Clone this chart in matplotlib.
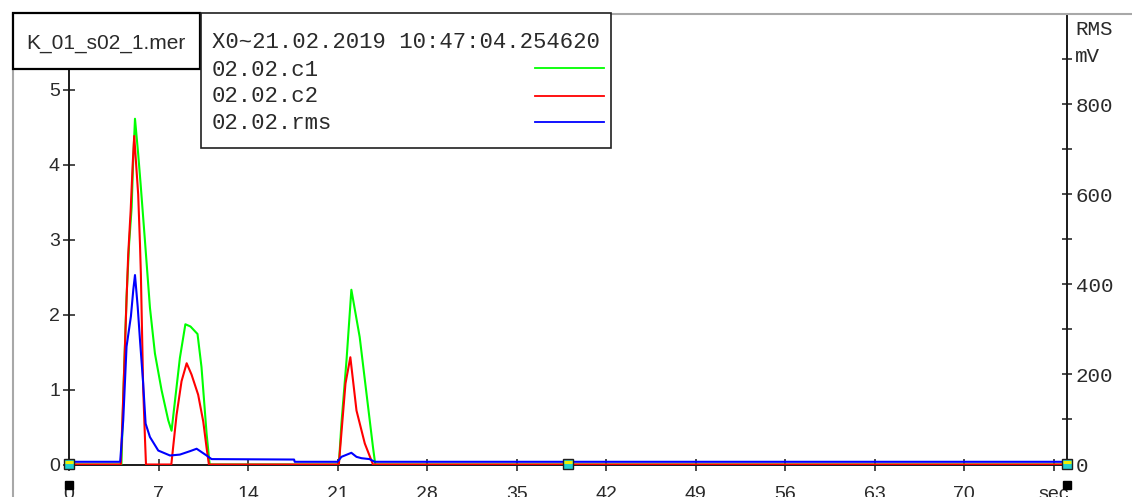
import matplotlib
matplotlib.use("Agg")
import matplotlib.pyplot as plt
from matplotlib.patches import Rectangle
from matplotlib.lines import Line2D
from matplotlib.transforms import offset_copy

# ---- series data (time in s) ----
c1_t = [0, 4.1, 4.25, 4.5, 4.7, 4.9, 5.02, 5.16, 5.41, 5.6, 5.94, 6.33, 6.72, 7.24, 7.76,
        8.02, 8.67, 9.1, 9.5, 10.05, 10.36, 10.5, 10.76, 11.0,
        21.1, 21.3, 21.7, 22.08, 22.73, 23.26, 23.77, 23.95, 78]
c1_v = [0, 0, 0.95, 2.23, 2.94, 3.43, 4.06, 4.61, 4.14, 3.74, 2.98, 2.09, 1.48, 0.99, 0.59,
        0.45, 1.42, 1.87, 1.84, 1.74, 1.30, 0.99, 0.41, 0,
        0, 0.54, 1.39, 2.33, 1.70, 0.95, 0.23, 0, 0]

c2_t = [0, 4.05, 4.25, 4.5, 4.63, 4.82, 4.98, 5.1, 5.41, 5.55, 5.62, 5.8, 5.94, 6.02,
        8.0, 8.41, 8.8, 9.2, 9.58, 10.1, 10.5, 10.76, 10.94,
        21.1, 21.62, 22.0, 22.48, 23.13, 23.77, 78]
c2_v = [0, 0, 0.95, 2.2, 2.8, 3.38, 4.0, 4.38, 3.6, 2.94, 2.54, 1.02, 0.35, 0,
        0, 0.66, 1.11, 1.35, 1.2, 0.93, 0.57, 0.22, 0,
        0, 1.08, 1.43, 0.72, 0.28, 0, 0]

rms_t = [0, 4.0, 4.24, 4.5, 4.84, 5.03, 5.16, 5.37, 5.55, 5.8, 5.99, 6.33, 6.98, 7.9,
         8.67, 9.5, 9.98, 10.76, 11.15, 17.6, 17.65, 21.0, 21.3, 22.08, 22.48, 22.87,
         23.5, 23.9, 78]
rms_mv = [6, 6, 98, 262, 329, 389, 421, 351, 277, 180, 91, 61, 31, 20,
          22, 30, 35, 20, 12, 11, 6, 6, 17, 26, 17, 14,
          12, 6, 6]

x_ticks = [0, 7, 14, 21, 28, 35, 42, 49, 56, 63, 70, 77]
x_tick_labels = ["0", "7", "14", "21", "28", "35", "42", "49", "56", "63", "70", "sec"]
left_ticks = [0, 1, 2, 3, 4, 5]
right_major = [0, 200, 400, 600, 800, 1000]
right_labels = ["0", "200", "400", "600", "800", ""]
right_minor = [100, 300, 500, 700, 900]
cursor_t = [0, 39, 78]
handle_t = [0, 78]

file_name = "K_01_s02_1.mer"
legend_header = "X0~21.02.2019 10:47:04.254620"
legend_names = ["02.02.c1", "02.02.c2", "02.02.rms"]
colors = ["#00ff00", "#ff0000", "#0000ff"]

W, H = 1132, 497
fig = plt.figure(figsize=(W / 100, H / 100), dpi=100)
fig.patch.set_facecolor("white")


def fx(x):
    return x / W


def fy(y):
    return 1 - y / H


x0, x1 = 69, 1066.5
y_top, y_bot = 14.5, 464.5
ax = fig.add_axes([fx(x0), fy(y_bot), (x1 - x0) / W, (y_bot - y_top) / H])
ax2 = ax.twinx()

ax.set_xlim(0, 78)
ax.set_ylim(0, 6)
ax2.set_ylim(0, 1000)

for a in (ax, ax2):
    a.spines["top"].set_visible(False)
    a.patch.set_visible(False)
ax.spines["right"].set_visible(False)
ax2.spines["left"].set_visible(False)
ax2.spines["bottom"].set_visible(False)
for s in ("left", "bottom"):
    ax.spines[s].set_linewidth(1.4)
    ax.spines[s].set_color("#1a1a1a")
ax2.spines["right"].set_linewidth(1.4)
ax2.spines["right"].set_color("#1a1a1a")

sans = "Liberation Sans"
mono = "Liberation Mono"
tcol = "#2a2a2a"

ax.set_xticks(x_ticks)
ax.set_xticklabels(x_tick_labels, fontfamily=sans, fontsize=14, color=tcol)
ax.set_yticks(left_ticks)
ax.set_yticklabels([str(v) for v in left_ticks], fontfamily=sans, fontsize=14, color=tcol)
ax.tick_params(axis="x", direction="inout", length=8, width=1.1, pad=11.5, color="#1a1a1a")
ax.tick_params(axis="y", direction="inout", length=8, width=1.1, pad=2.5, color="#1a1a1a")

ax2.set_yticks(right_major)
ax2.set_yticklabels(right_labels, fontfamily=mono, fontsize=15, color=tcol)
ax2.set_yticks(right_minor, minor=True)
ax2.tick_params(axis="y", which="both", direction="inout", length=7, width=1.1, pad=3,
                color="#1a1a1a")

# signal traces
ax.plot(c1_t, c1_v, color=colors[0], lw=1.5, zorder=3)
ax.plot(c2_t, c2_v, color=colors[1], lw=1.5, zorder=4)
ax2.plot(rms_t, rms_mv, color=colors[2], lw=1.5, zorder=5)

# cursor markers on the time axis
for t in cursor_t:
    ax2.plot([t], [0], marker="s", ms=7, mfc="#20d0d0", mec="#202020", mew=1.0,
             clip_on=False, zorder=10)
    ax2.plot([t], [0], marker="_", ms=6, color="#f0f000", mew=2.2, clip_on=False,
             zorder=11, transform=offset_copy(ax2.transData, fig, y=2, units="dots"))

# scroll handles under the time axis
for t in handle_t:
    ax.plot([t], [0], marker="s", ms=6, color="black", clip_on=False, zorder=10,
            transform=offset_copy(ax.transData, fig, y=-20, units="dots"))

# unit label of the right axis
fig.text(fx(1075), fy(35), "RMS", fontfamily=mono, fontsize=15, color=tcol,
         ha="left", va="baseline")
fig.text(fx(1075), fy(62.5), "mV", fontfamily=mono, fontsize=15, color=tcol,
         ha="left", va="baseline")

# panel frame
fig.add_artist(Line2D([fx(12.5), fx(12.5)], [0, fy(13.5)], transform=fig.transFigure,
                      color="#a8a8a8", lw=1.5, zorder=6))
fig.add_artist(Line2D([fx(12.5), 1], [fy(13.5), fy(13.5)], transform=fig.transFigure,
                      color="#a8a8a8", lw=1.5, zorder=6))

# file name box
fig.add_artist(Rectangle((fx(12.5), fy(68.5)), (199.5 - 12.5) / W, (68.5 - 13.5) / H,
                         transform=fig.transFigure, facecolor="white", edgecolor="black",
                         lw=1.6, zorder=7))
fig.text(fx(26), fy(48.5), file_name, fontfamily=sans, fontsize=15, color=tcol,
         ha="left", va="baseline", zorder=8)

# legend box
fig.add_artist(Rectangle((fx(200.5), fy(148)), (610.5 - 200.5) / W, (148 - 13.5) / H,
                         transform=fig.transFigure, facecolor="white", edgecolor="#202020",
                         lw=1.2, zorder=7))
fig.text(fx(212), fy(48.5), legend_header, fontfamily=mono, fontsize=16, color=tcol,
         ha="left", va="baseline", zorder=8)
row_base = [75.5, 102.5, 129]
row_line = [68.3, 95.7, 122.3]
for name, col, yb, yl in zip(legend_names, colors, row_base, row_line):
    fig.text(fx(212), fy(yb), name, fontfamily=mono, fontsize=16, color=tcol,
             ha="left", va="baseline", zorder=8)
    fig.add_artist(Line2D([fx(535), fx(604)], [fy(yl), fy(yl)], transform=fig.transFigure,
                          color=col, lw=1.3, zorder=8))

fig.savefig("out.png", dpi=100)
